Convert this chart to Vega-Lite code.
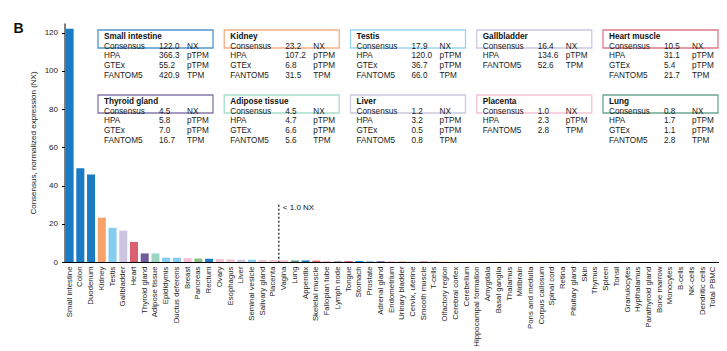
{
  "$schema": "https://vega.github.io/schema/vega-lite/v6.json",
  "width": 654,
  "height": 239,
  "autosize": "none",
  "padding": {"left": 64.5, "top": 23, "right": 8.5, "bottom": 89},
  "background": "white",
  "config": {"font": "Liberation Sans", "view": {"stroke": null}, "axisY": {"labelOverlap": false}},
  "title": {"text": "B", "anchor": "start", "frame": "group", "orient": "top", "offset": 0, "baseline": "alphabetic", "dx": -51, "dy": 23.5, "fontSize": 14, "fontWeight": "bold", "color": "#111"},
  "datasets": {
    "tissues": [
      {"tissue": "Small intestine", "nx": 122.0, "group": "gi"},
      {"tissue": "Colon", "nx": 49.0, "group": "gi"},
      {"tissue": "Duodenum", "nx": 45.8, "group": "gi"},
      {"tissue": "Kidney", "nx": 23.2, "group": "kidney"},
      {"tissue": "Testis", "nx": 17.9, "group": "male"},
      {"tissue": "Gallbladder", "nx": 16.4, "group": "liver"},
      {"tissue": "Heart", "nx": 10.5, "group": "muscle"},
      {"tissue": "Thyroid gland", "nx": 4.5, "group": "endocrine"},
      {"tissue": "Adipose tissue", "nx": 4.5, "group": "adipose"},
      {"tissue": "Epididymis", "nx": 2.3, "group": "male"},
      {"tissue": "Ductus deferens", "nx": 2.2, "group": "male"},
      {"tissue": "Breast", "nx": 2.0, "group": "female"},
      {"tissue": "Pancreas", "nx": 1.8, "group": "pancreas"},
      {"tissue": "Rectum", "nx": 1.7, "group": "gi"},
      {"tissue": "Ovary", "nx": 1.5, "group": "female"},
      {"tissue": "Esophagus", "nx": 1.4, "group": "prox"},
      {"tissue": "Liver", "nx": 1.2, "group": "liver"},
      {"tissue": "Seminal vesicle", "nx": 1.2, "group": "male"},
      {"tissue": "Salivary gland", "nx": 1.1, "group": "prox"},
      {"tissue": "Placenta", "nx": 1.0, "group": "female"},
      {"tissue": "Vagina", "nx": 0.9, "group": "female"},
      {"tissue": "Lung", "nx": 0.8, "group": "lung"},
      {"tissue": "Appendix", "nx": 0.8, "group": "gi"},
      {"tissue": "Skeletal muscle", "nx": 0.7, "group": "muscle"},
      {"tissue": "Fallopian tube", "nx": 0.6, "group": "female"},
      {"tissue": "Lymph node", "nx": 0.6, "group": "lymphoid"},
      {"tissue": "Tongue", "nx": 0.5, "group": "muscle"},
      {"tissue": "Stomach", "nx": 0.5, "group": "gi"},
      {"tissue": "Prostate", "nx": 0.5, "group": "male"},
      {"tissue": "Adrenal gland", "nx": 0.4, "group": "endocrine"},
      {"tissue": "Endometrium", "nx": 0.4, "group": "female"},
      {"tissue": "Urinary bladder", "nx": 0.3, "group": "kidney"},
      {"tissue": "Cervix, uterine", "nx": 0.3, "group": "female"},
      {"tissue": "Smooth muscle", "nx": 0.3, "group": "muscle"},
      {"tissue": "T-cells", "nx": 0.2, "group": "blood"},
      {"tissue": "Olfactory region", "nx": 0.2, "group": "brain"},
      {"tissue": "Cerebral cortex", "nx": 0.1, "group": "brain"},
      {"tissue": "Cerebellum", "nx": 0.1, "group": "brain"},
      {"tissue": "Hippocampal formation", "nx": 0.1, "group": "brain"},
      {"tissue": "Amygdala", "nx": 0.1, "group": "brain"},
      {"tissue": "Basal ganglia", "nx": 0.1, "group": "brain"},
      {"tissue": "Thalamus", "nx": 0.1, "group": "brain"},
      {"tissue": "Midbrain", "nx": 0.1, "group": "brain"},
      {"tissue": "Pons and medulla", "nx": 0.1, "group": "brain"},
      {"tissue": "Corpus callosum", "nx": 0.1, "group": "brain"},
      {"tissue": "Spinal cord", "nx": 0.1, "group": "brain"},
      {"tissue": "Retina", "nx": 0.1, "group": "eye"},
      {"tissue": "Pituitary gland", "nx": 0.1, "group": "endocrine"},
      {"tissue": "Skin", "nx": 0.1, "group": "skin"},
      {"tissue": "Thymus", "nx": 0.1, "group": "lymphoid"},
      {"tissue": "Spleen", "nx": 0.1, "group": "lymphoid"},
      {"tissue": "Tonsil", "nx": 0.1, "group": "lymphoid"},
      {"tissue": "Granulocytes", "nx": 0.0, "group": "blood"},
      {"tissue": "Hypthalamus", "nx": 0.0, "group": "brain"},
      {"tissue": "Parathyroid gland", "nx": 0.0, "group": "endocrine"},
      {"tissue": "Bone marrow", "nx": 0.0, "group": "lymphoid"},
      {"tissue": "Monocytes", "nx": 0.0, "group": "blood"},
      {"tissue": "B-cells", "nx": 0.0, "group": "blood"},
      {"tissue": "NK-cells", "nx": 0.0, "group": "blood"},
      {"tissue": "Dendritic cells", "nx": 0.0, "group": "blood"},
      {"tissue": "Total PBMC", "nx": 0.0, "group": "blood"}
    ],
    "boxes": [
      {"box": "Small intestine", "col": 0, "row": 0, "group": "gi"},
      {"box": "Kidney", "col": 1, "row": 0, "group": "kidney"},
      {"box": "Testis", "col": 2, "row": 0, "group": "male"},
      {"box": "Gallbladder", "col": 3, "row": 0, "group": "liver"},
      {"box": "Heart muscle", "col": 4, "row": 0, "group": "muscle"},
      {"box": "Thyroid gland", "col": 0, "row": 1, "group": "endocrine"},
      {"box": "Adipose tissue", "col": 1, "row": 1, "group": "adipose"},
      {"box": "Liver", "col": 2, "row": 1, "group": "liver"},
      {"box": "Placenta", "col": 3, "row": 1, "group": "female"},
      {"box": "Lung", "col": 4, "row": 1, "group": "lung"}
    ],
    "lines": [
      {"col": 0, "row": 0, "line": 1, "source": "Consensus", "value": 122.0, "unit": "NX"},
      {"col": 0, "row": 0, "line": 2, "source": "HPA", "value": 366.3, "unit": "pTPM"},
      {"col": 0, "row": 0, "line": 3, "source": "GTEx", "value": 55.2, "unit": "pTPM"},
      {"col": 0, "row": 0, "line": 4, "source": "FANTOM5", "value": 420.9, "unit": "TPM"},
      {"col": 1, "row": 0, "line": 1, "source": "Consensus", "value": 23.2, "unit": "NX"},
      {"col": 1, "row": 0, "line": 2, "source": "HPA", "value": 107.2, "unit": "pTPM"},
      {"col": 1, "row": 0, "line": 3, "source": "GTEx", "value": 6.8, "unit": "pTPM"},
      {"col": 1, "row": 0, "line": 4, "source": "FANTOM5", "value": 31.5, "unit": "TPM"},
      {"col": 2, "row": 0, "line": 1, "source": "Consensus", "value": 17.9, "unit": "NX"},
      {"col": 2, "row": 0, "line": 2, "source": "HPA", "value": 120.0, "unit": "pTPM"},
      {"col": 2, "row": 0, "line": 3, "source": "GTEx", "value": 36.7, "unit": "pTPM"},
      {"col": 2, "row": 0, "line": 4, "source": "FANTOM5", "value": 66.0, "unit": "TPM"},
      {"col": 3, "row": 0, "line": 1, "source": "Consensus", "value": 16.4, "unit": "NX"},
      {"col": 3, "row": 0, "line": 2, "source": "HPA", "value": 134.6, "unit": "pTPM"},
      {"col": 3, "row": 0, "line": 3, "source": "FANTOM5", "value": 52.6, "unit": "TPM"},
      {"col": 4, "row": 0, "line": 1, "source": "Consensus", "value": 10.5, "unit": "NX"},
      {"col": 4, "row": 0, "line": 2, "source": "HPA", "value": 31.1, "unit": "pTPM"},
      {"col": 4, "row": 0, "line": 3, "source": "GTEx", "value": 5.4, "unit": "pTPM"},
      {"col": 4, "row": 0, "line": 4, "source": "FANTOM5", "value": 21.7, "unit": "TPM"},
      {"col": 0, "row": 1, "line": 1, "source": "Consensus", "value": 4.5, "unit": "NX"},
      {"col": 0, "row": 1, "line": 2, "source": "HPA", "value": 5.8, "unit": "pTPM"},
      {"col": 0, "row": 1, "line": 3, "source": "GTEx", "value": 7.0, "unit": "pTPM"},
      {"col": 0, "row": 1, "line": 4, "source": "FANTOM5", "value": 16.7, "unit": "TPM"},
      {"col": 1, "row": 1, "line": 1, "source": "Consensus", "value": 4.5, "unit": "NX"},
      {"col": 1, "row": 1, "line": 2, "source": "HPA", "value": 4.7, "unit": "pTPM"},
      {"col": 1, "row": 1, "line": 3, "source": "GTEx", "value": 6.6, "unit": "pTPM"},
      {"col": 1, "row": 1, "line": 4, "source": "FANTOM5", "value": 5.6, "unit": "TPM"},
      {"col": 2, "row": 1, "line": 1, "source": "Consensus", "value": 1.2, "unit": "NX"},
      {"col": 2, "row": 1, "line": 2, "source": "HPA", "value": 3.2, "unit": "pTPM"},
      {"col": 2, "row": 1, "line": 3, "source": "GTEx", "value": 0.5, "unit": "pTPM"},
      {"col": 2, "row": 1, "line": 4, "source": "FANTOM5", "value": 0.8, "unit": "TPM"},
      {"col": 3, "row": 1, "line": 1, "source": "Consensus", "value": 1.0, "unit": "NX"},
      {"col": 3, "row": 1, "line": 2, "source": "HPA", "value": 2.3, "unit": "pTPM"},
      {"col": 3, "row": 1, "line": 3, "source": "FANTOM5", "value": 2.8, "unit": "TPM"},
      {"col": 4, "row": 1, "line": 1, "source": "Consensus", "value": 0.8, "unit": "NX"},
      {"col": 4, "row": 1, "line": 2, "source": "HPA", "value": 1.7, "unit": "pTPM"},
      {"col": 4, "row": 1, "line": 3, "source": "GTEx", "value": 1.1, "unit": "pTPM"},
      {"col": 4, "row": 1, "line": 4, "source": "FANTOM5", "value": 2.8, "unit": "TPM"}
    ]
  },
  "layer": [
    {
      "data": {"name": "tissues"},
      "layer": [
        {
          "mark": {"type": "bar"},
          "encoding": {
            "x": {
              "field": "tissue", "type": "nominal", "sort": null,
              "scale": {"paddingInner": 0.25, "paddingOuter": 0.1},
              "axis": {"title": null, "labelAngle": -90, "labelFontSize": 7.8, "labelColor": "#222", "ticks": false, "domainColor": "#000", "domainWidth": 1, "labelPadding": 4, "labelOverlap": false, "labelLimit": 300}
            },
            "y": {
              "field": "nx", "type": "quantitative",
              "scale": {"domain": [0, 125], "nice": false},
              "axis": {"values": [0, 20, 40, 60, 80, 100, 120], "labelOverlap": false, "title": "Consensus, normalized expression (NX)", "titleFontSize": 8, "titleFontWeight": "normal", "titleColor": "#222", "labelFontSize": 8, "labelColor": "#222", "domainColor": "#000", "tickColor": "#000", "tickSize": 3, "grid": false, "labelPadding": 4, "titlePadding": 7}
            },
            "color": {
              "field": "group", "type": "nominal", "legend": null,
              "scale": {
                "domain": ["gi", "kidney", "male", "liver", "muscle", "endocrine", "adipose", "female", "pancreas", "prox", "lung", "lymphoid", "brain", "eye", "skin", "blood"],
                "range": ["#1a7bc4", "#f7a26a", "#85cdef", "#cbc5e2", "#d95f73", "#6f5e9b", "#9ad6c6", "#f5bdd2", "#8fbf87", "#f2c4cb", "#5f9f86", "#a9aab8", "#f2d35e", "#8fa4c4", "#f4c48c", "#c9706a"]
              }
            }
          }
        },
        {
          "mark": {"type": "rule", "strokeDash": [2, 2], "strokeWidth": 1.2, "color": "#111"},
          "encoding": {
            "x": {"field": "tissue", "type": "nominal", "sort": null, "bandPosition": 1.1667},
            "y": {"datum": 30, "type": "quantitative", "axis": {"values": [0, 20, 40, 60, 80, 100, 120], "labelOverlap": false, "title": "Consensus, normalized expression (NX)", "titleFontSize": 8, "titleFontWeight": "normal", "titleColor": "#222", "labelFontSize": 8, "labelColor": "#222", "domainColor": "#000", "tickColor": "#000", "tickSize": 3, "grid": false, "labelPadding": 4, "titlePadding": 7}},
            "y2": {"datum": 0},
            "strokeOpacity": {"condition": {"test": "datum.tissue === 'Placenta'", "value": 1}, "value": 0}
          }
        },
        {
          "mark": {"type": "text", "align": "left", "baseline": "middle", "dx": 4, "fontSize": 8, "color": "#111"},
          "encoding": {
            "x": {"field": "tissue", "type": "nominal", "sort": null, "bandPosition": 1.1667},
            "y": {"datum": 28, "type": "quantitative", "axis": {"values": [0, 20, 40, 60, 80, 100, 120], "labelOverlap": false, "title": "Consensus, normalized expression (NX)", "titleFontSize": 8, "titleFontWeight": "normal", "titleColor": "#222", "labelFontSize": 8, "labelColor": "#222", "domainColor": "#000", "tickColor": "#000", "tickSize": 3, "grid": false, "labelPadding": 4, "titlePadding": 7}},
            "text": {"value": "< 1.0 NX"},
            "opacity": {"condition": {"test": "datum.tissue === 'Placenta'", "value": 1}, "value": 0}
          }
        }
      ]
    },
    {
      "layer": [
        {
          "data": {"name": "boxes"},
          "mark": {"type": "rect", "fill": "white", "strokeWidth": 1.3, "strokeOpacity": 0.9},
          "encoding": {
            "x": {"field": "col", "type": "ordinal", "axis": null, "scale": {"domain": [0, 1, 2, 3, 4], "range": [33.5, 653.5], "paddingInner": 0.089, "paddingOuter": 0}},
            "y": {"field": "row", "type": "ordinal", "axis": null, "scale": {"domain": [0, 1], "range": [7, 125], "paddingInner": 0.185, "paddingOuter": 0}},
            "stroke": {
              "field": "group", "type": "nominal", "legend": null,
              "scale": {
                "domain": ["gi", "kidney", "male", "liver", "muscle", "endocrine", "adipose", "female", "pancreas", "prox", "lung", "lymphoid", "brain", "eye", "skin", "blood"],
                "range": ["#3d8cc9", "#f3a67a", "#8ed0ec", "#c8c2de", "#d86c7c", "#7a6aa2", "#9dd8c8", "#f3bdd2", "#8fbf87", "#f2c4cb", "#5f9f86", "#a9aab8", "#f2d35e", "#8fa4c4", "#f4c48c", "#c9706a"]
              }
            }
          }
        },
        {
          "data": {"name": "boxes"},
          "mark": {"type": "text", "align": "left", "baseline": "middle", "dx": 6, "dy": 7, "fontSize": 8.2, "fontWeight": "bold", "color": "#111"},
          "encoding": {
            "x": {"field": "col", "type": "ordinal", "bandPosition": 0, "axis": null, "scale": {"domain": [0, 1, 2, 3, 4], "range": [33.5, 653.5], "paddingInner": 0.089, "paddingOuter": 0}},
            "y": {"field": "row", "type": "ordinal", "bandPosition": 0, "axis": null, "scale": {"domain": [0, 1], "range": [7, 125], "paddingInner": 0.185, "paddingOuter": 0}},
            "text": {"field": "box", "type": "nominal"}
          }
        },
        {
          "data": {"name": "lines"},
          "mark": {"type": "text", "align": "left", "baseline": "middle", "dx": 6, "fontSize": 8.2, "color": "#1a1a1a"},
          "encoding": {
            "x": {"field": "col", "type": "ordinal", "bandPosition": 0, "axis": null, "scale": {"domain": [0, 1, 2, 3, 4], "range": [33.5, 653.5], "paddingInner": 0.089, "paddingOuter": 0}},
            "y": {"field": "row", "type": "ordinal", "axis": null, "scale": {"domain": [0, 1], "range": [7, 125], "paddingInner": 0.185, "paddingOuter": 0}},
            "yOffset": {"field": "line", "type": "quantitative", "scale": {"domain": [1, 4], "range": [16.7, 46]}},
            "text": {"field": "source", "type": "nominal"}
          }
        },
        {
          "data": {"name": "lines"},
          "mark": {"type": "text", "align": "left", "baseline": "middle", "dx": 61, "fontSize": 8.2, "color": "#1a1a1a"},
          "encoding": {
            "x": {"field": "col", "type": "ordinal", "bandPosition": 0, "axis": null, "scale": {"domain": [0, 1, 2, 3, 4], "range": [33.5, 653.5], "paddingInner": 0.089, "paddingOuter": 0}},
            "y": {"field": "row", "type": "ordinal", "axis": null, "scale": {"domain": [0, 1], "range": [7, 125], "paddingInner": 0.185, "paddingOuter": 0}},
            "yOffset": {"field": "line", "type": "quantitative", "scale": {"domain": [1, 4], "range": [16.7, 46]}},
            "text": {"field": "value", "type": "quantitative", "format": ".1f"}
          }
        },
        {
          "data": {"name": "lines"},
          "mark": {"type": "text", "align": "left", "baseline": "middle", "dx": 89, "fontSize": 8.2, "color": "#1a1a1a"},
          "encoding": {
            "x": {"field": "col", "type": "ordinal", "bandPosition": 0, "axis": null, "scale": {"domain": [0, 1, 2, 3, 4], "range": [33.5, 653.5], "paddingInner": 0.089, "paddingOuter": 0}},
            "y": {"field": "row", "type": "ordinal", "axis": null, "scale": {"domain": [0, 1], "range": [7, 125], "paddingInner": 0.185, "paddingOuter": 0}},
            "yOffset": {"field": "line", "type": "quantitative", "scale": {"domain": [1, 4], "range": [16.7, 46]}},
            "text": {"field": "unit", "type": "nominal"}
          }
        }
      ]
    }
  ],
  "resolve": {"scale": {"x": "independent", "y": "independent"}}
}
